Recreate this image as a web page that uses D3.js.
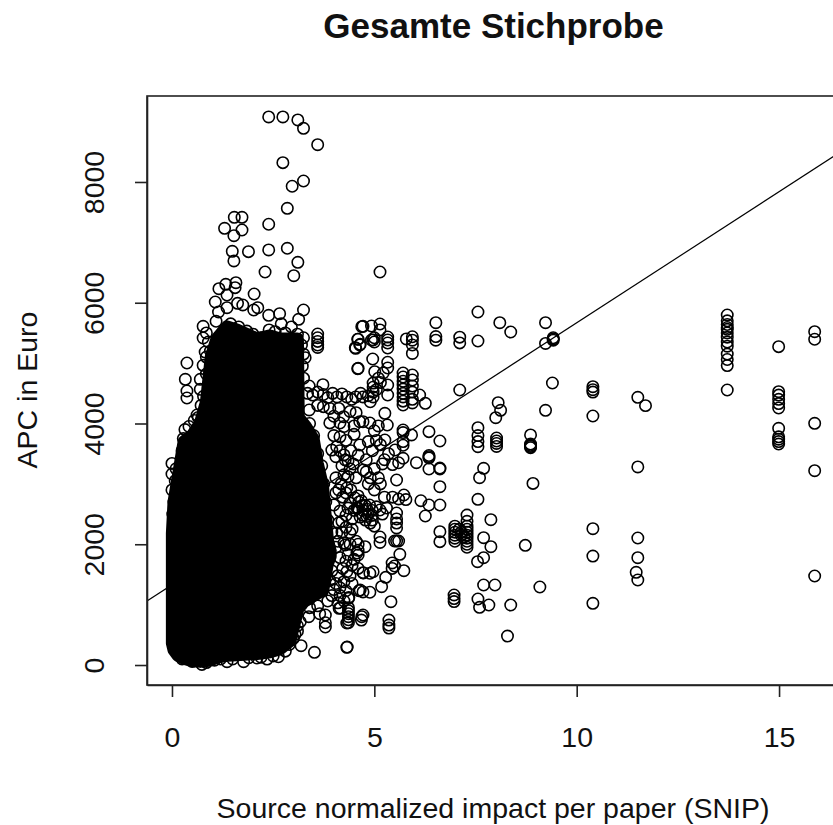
<!DOCTYPE html>
<html><head><meta charset="utf-8">
<script src="https://cdn.jsdelivr.net/npm/d3@7/dist/d3.min.js"></script>
<style>html,body{margin:0;padding:0;background:#fff;overflow:hidden}svg{display:block}text{font-family:"Liberation Sans",Arial,sans-serif;fill:#111}</style>
</head><body><svg id="c" width="833" height="825"></svg>
<script>
const chartTitle = "Gesamte Stichprobe";
const xLabel = "Source normalized impact per paper (SNIP)";
const yLabel = "APC in Euro";
const xTicks = [0, 5, 10, 15];
const yTicks = [0, 2000, 4000, 6000, 8000];
const regressionIntercept = 1328;
const regressionSlope = 434;

// Where the circles merge into solid black, single values cannot be read: envelope of the mass
const massX  = [0.01,0.05,0.15,0.30,0.50,0.70,0.85,0.97,1.11,1.36,1.60,2.10,2.42,2.67,2.91,3.10,3.12,3.30,3.49,3.59,3.72,3.84,3.91];
const massHi = [2180,2700,3100,3700,3800,4000,4350,5100,5400,5600,5550,5400,5450,5400,5400,5400,4100,3950,3740,3340,2960,2080,1880];
const massLo = [360,250,160,110,70,60,70,90,130,160,170,190,220,270,400,900,980,1070,1150,1190,1230,1680,1800];

const pointsTop = [[2.39,9077],[2.74,9077],[3.11,9027],[3.25,8889],[3.60,8618],[2.74,8320],[3.25,8016],[2.97,7929],[2.85,7564],[2.39,7300],[1.54,7415],[1.73,7415],[1.30,7233],[1.73,7205],[1.53,7110],[1.49,6852],[1.89,6846],[2.39,6874],[2.85,6902],[1.53,6692],[3.11,6670],[2.30,6509],[3.01,6448],[1.58,6332],[1.33,6305],[1.16,6233],[1.56,6250],[1.36,6128],[2.03,6145],[1.07,6012],[1.62,5990],[1.75,5963],[1.36,5918],[2.12,5918],[2.02,5880],[3.25,5880],[1.15,5847],[2.39,5792],[2.66,5819],[3.13,5726],[0.77,5610],[0.77,5416],[1.09,5693],[0.82,5184],[0.37,5002],[0.77,4964],[0.33,4732],[0.37,4538],[0.70,4566],[1.07,5118],[1.03,4974],[0.70,4732],[0.95,4787],[0.37,4422],[0.62,4141],[0.00,3339],[0.00,3164],[0.00,2900],[3.25,5420],[3.29,5090],[0.85,5500],[0.90,5350]];
const pointsEdge = [[1.25,5500],[1.45,5650],[1.65,5600],[1.85,5530],[2.00,5480],[2.20,5420],[2.40,5550],[2.55,5520],[2.80,5500],[3.00,5400],[3.10,5480],[2.95,5600],[2.70,5650],[3.20,5300],[3.25,5150],[3.22,4950],[3.25,4750],[0.95,5200],[0.98,5000],[0.85,4820],[0.92,4600],[0.78,4450],[0.72,4300],[0.65,4100],[0.85,5100],[0.95,4450],[0.55,4050],[0.42,3950],[0.32,3900],[0.28,3750],[0.25,3550],[0.30,3450],[0.38,3300],[0.10,3250],[0.08,3050],[0.12,2900],[0.05,2700],[0.18,2800],[0.02,2500],[0.08,2400],[0.25,100],[0.50,60],[0.85,40],[1.05,80],[1.20,100],[1.50,100],[1.90,120],[2.20,130],[2.50,150],[2.80,230],[2.90,340],[3.00,440],[3.10,650],[3.20,1000],[3.40,1100],[3.55,1250],[3.70,1400],[3.80,1600],[3.90,1900],[3.95,2200],[3.85,2400],[3.80,2700],[3.75,3000],[3.70,3300],[3.60,3500],[3.50,3800],[3.40,4000]];
const pointsUpperMid = [[3.60,5482],[3.60,5420],[3.60,5360],[3.60,5300],[3.60,5260],[4.69,5603],[4.59,5395],[4.53,5256],[4.65,5312],[4.59,4908],[3.39,4621],[3.73,4643],[5.14,6509],[4.72,5610],[4.93,5615],[5.14,5648],[5.14,5549],[4.60,5395],[4.54,5245],[4.64,5300],[4.93,5383],[4.97,5383],[5.00,5350],[5.00,5420],[5.33,5433],[5.33,5383],[5.33,5333],[5.33,5250],[5.79,5400],[5.94,5437],[5.94,5380],[5.94,5300],[5.94,5160],[6.52,5670],[6.52,5440],[6.52,5380],[7.11,5430],[7.11,5335],[7.56,5847],[7.56,5366],[8.10,5670],[8.37,5515],[9.23,5670],[9.23,5326],[9.42,5380],[9.42,5400],[9.42,5420],[9.40,4671],[9.23,4218],[4.60,4913],[4.96,5068],[5.33,5014],[5.33,4919],[5.01,4858],[4.97,4670],[4.97,4600],[4.97,4520],[4.97,4440],[5.22,4836],[5.10,4750],[5.15,4680],[5.05,4560],[5.33,4638],[5.33,4472],[5.71,4836],[5.71,4770],[5.71,4700],[5.71,4638],[5.71,4570],[5.71,4500],[5.71,4440],[5.71,4370],[5.71,4306],[5.94,4803],[5.94,4720],[5.94,4620],[5.94,4520],[5.94,4400],[5.94,4340],[6.12,4472],[6.26,4334],[7.11,4555],[8.06,4345],[8.12,4218],[8.00,4096]];
const pointsRow4500 = [[3.35,4500],[3.48,4470],[3.60,4520],[3.74,4480],[3.85,4430],[3.97,4500],[4.08,4440],[4.20,4490],[4.32,4440],[4.44,4400],[4.54,4440],[4.66,4500],[4.72,4440],[4.85,4460],[4.90,4360],[3.39,4224],[3.74,4279],[3.60,4300],[3.90,4250],[4.15,4008],[4.64,4030],[4.24,4113],[4.40,4200],[4.55,4180],[3.90,4010],[4.00,4120],[4.12,4250],[4.25,3950],[4.50,3960],[4.72,4030],[4.89,4008],[5.26,4169],[5.32,3975],[5.10,3960],[5.00,3880]];
const pointsFringe = [[4.64,3644],[4.07,3616],[4.28,3395],[4.73,3230],[4.32,2932],[4.52,2766],[4.57,2600],[4.12,2352],[4.07,2186],[4.40,2191],[4.57,1855],[4.28,1988],[4.73,1524],[4.32,1545],[4.65,1242],[4.36,1105],[4.16,944],[3.79,828],[3.79,700],[3.79,630],[4.69,800],[3.17,717],[3.38,800],[3.04,508],[3.19,320],[3.52,210],[4.32,293],[2.63,137],[2.35,99],[2.10,116],[1.77,55],[1.36,55],[0.74,10],[4.00,3800],[3.95,3560],[4.15,3780],[4.30,3720],[4.50,3820],[4.42,3550],[4.60,3480],[4.20,3300],[4.40,3250],[4.05,3100],[4.18,3000],[4.35,3120],[4.05,2850],[4.22,2780],[4.40,2680],[4.00,2650],[4.15,2550],[4.30,2480],[4.45,2420],[4.10,2050],[4.25,2020],[4.40,2000],[4.15,1780],[4.30,1720],[4.45,1650],[4.60,1600],[3.95,1560],[4.10,1480],[4.25,1380],[4.45,1350],[3.90,1400],[4.00,1250],[4.15,1150],[3.85,1060],[3.60,980],[3.40,950],[3.65,850],[4.36,950],[4.36,900],[4.36,850],[4.36,800],[4.36,750],[4.36,700],[3.00,800],[3.10,560],[2.85,450],[3.00,640],[4.05,3450],[4.15,3550],[4.25,3480],[4.35,3380],[4.48,3330],[4.55,3100],[4.25,3150],[4.12,2900],[4.30,2850],[4.42,2900],[4.50,2560],[4.35,2600],[4.20,2380],[4.30,2280],[4.45,2250],[4.55,2050],[4.20,2200],[4.05,1950],[4.35,1830],[4.50,1750],[4.22,1600],[4.40,1480],[4.05,1350],[4.30,1230],[4.15,1280],[3.95,1150],[4.10,1030],[4.25,1060]];
const pointsClusterLeft = [[4.60,2800],[4.68,2720],[4.78,2640],[4.60,2600],[4.72,2560],[4.85,2500],[4.95,2480],[4.65,2450],[4.78,2400],[4.90,2350],[5.00,2300],[5.14,2567],[5.05,2620],[5.20,2500],[5.30,2600],[5.25,2780],[5.14,2120],[5.14,2030],[4.77,1960],[4.60,2000],[4.60,1900],[4.60,1822],[4.89,1520],[4.72,1530],[4.97,1545],[4.62,1230],[4.72,1210],[4.89,1205],[4.37,1120],[4.13,939],[4.32,696],[4.68,745],[4.72,828],[4.80,3200],[4.90,3100],[5.00,3250],[5.10,3100],[5.20,3330],[4.85,3000],[5.00,2900],[5.15,3000],[5.05,3720],[5.26,3727],[5.51,3561],[5.35,3500],[5.25,3400],[5.45,3320],[5.60,3350],[5.15,3650],[4.85,3700],[4.95,3550],[4.80,3400],[4.62,2700],[4.70,2640],[4.82,2580],[4.88,2650],[4.95,2560],[4.72,2480],[4.82,2460],[4.95,2400]];
const pointsLowerMid = [[7.56,3931],[7.56,3800],[7.56,3700],[7.56,3616],[8.02,3760],[8.02,3710],[8.02,3670],[8.02,3620],[8.86,3810],[8.86,3660],[8.86,3640],[8.86,3620],[8.86,3600],[6.35,3865],[6.62,3710],[5.92,3810],[5.71,3892],[5.71,3850],[5.71,3700],[5.71,3640],[6.35,3470],[6.35,3450],[6.35,3430],[6.04,3351],[6.62,3263],[5.71,3424],[6.35,3246],[6.62,3246],[7.70,3258],[7.60,3102],[8.92,3008],[6.62,2953],[7.56,2744],[6.62,2650],[6.35,2650],[6.15,2721],[6.26,2468],[7.29,2484],[7.88,2407],[6.62,2208],[6.62,2043],[6.99,2300],[6.99,2250],[6.99,2200],[6.99,2150],[6.99,2100],[6.99,2050],[7.29,2380],[7.29,2300],[7.29,2250],[7.29,2200],[7.29,2150],[7.29,2100],[7.29,2050],[7.29,2000],[7.29,1950],[7.15,2200],[7.15,2150],[7.10,2250],[7.22,2120],[7.70,2109],[7.88,1960],[8.73,1982],[7.70,1777],[7.55,1711],[7.70,1325],[7.98,1325],[9.09,1292],[6.97,1160],[6.97,1100],[6.97,1050],[7.56,1093],[7.60,955],[7.83,994],[8.37,994],[8.29,480],[4.33,298],[5.36,745],[5.36,662],[5.36,612],[5.41,1049],[5.18,1297],[5.28,1452],[5.73,1562],[5.44,1690],[5.44,1600],[5.50,1640],[5.63,1833],[5.50,2054],[5.55,2054],[5.60,2054],[5.55,2518],[5.55,2420],[5.55,2350],[5.55,2270],[5.73,2816],[5.78,2740],[5.55,3064],[5.60,2750],[5.45,2780]];
const pointsRight = [[10.40,4610],[10.40,4560],[10.40,4520],[10.40,4124],[11.51,4434],[11.70,4296],[11.51,3280],[10.40,2258],[10.40,1805],[10.40,1022],[11.51,2104],[11.51,1777],[11.47,1535],[11.51,1408],[13.72,5797],[13.72,5700],[13.72,5640],[13.72,5590],[13.72,5560],[13.72,5500],[13.72,5430],[13.72,5350],[13.72,5280],[13.72,5150],[13.72,5060],[13.72,4960],[13.72,4555],[14.99,5273],[14.99,4527],[14.99,4470],[14.99,4400],[14.99,4330],[14.99,4257],[14.99,3920],[14.99,3780],[14.99,3740],[14.99,3700],[14.99,3660],[15.88,5520],[15.88,5395],[15.88,4003],[15.88,3218],[15.88,1474]];

const svg = d3.select("#c");
const x = d3.scaleLinear().domain([-0.617, 17]).range([147, 860]);
const y = d3.scaleLinear().domain([-331, 9424]).range([685, 96]);

svg.append("clipPath").attr("id","plot").append("rect").attr("x",147).attr("y",96).attr("width",713).attr("height",589);
const g = svg.append("g").attr("clip-path","url(#plot)");

const line = d3.line().x(d=>x(d)).y(d=>y(regressionIntercept+regressionSlope*d));
g.append("path").attr("d",line(x.domain())).attr("fill","none").attr("stroke","#000").attr("stroke-width",1.2);

const mass = d3.area().x(d=>x(d[0])).y0(d=>y(d[2])).y1(d=>y(d[1]));
g.append("path").datum(massX.map((v,i)=>[v,massHi[i],massLo[i]]))
 .attr("d",mass).attr("fill","#000").attr("stroke","#000").attr("stroke-width",13).attr("stroke-linejoin","round");

const allPoints = [...pointsTop,...pointsEdge,...pointsUpperMid,...pointsRow4500,...pointsFringe,...pointsClusterLeft,...pointsLowerMid,...pointsRight];
g.selectAll("circle").data(allPoints).join("circle")
 .attr("cx",d=>x(d[0])).attr("cy",d=>y(d[1])).attr("r",5.7)
 .attr("fill","none").attr("stroke","#000").attr("stroke-width",1.6);

svg.append("rect").attr("x",147).attr("y",96).attr("width",713).attr("height",589).attr("fill","none").attr("stroke","#222").attr("stroke-width",1.6);

const fs = 28.5;
const ax = svg.append("g").attr("transform","translate(0,685)").call(d3.axisBottom(x).tickValues(xTicks).tickFormat(d3.format("d")).tickSize(12).tickSizeOuter(0).tickPadding(30));
ax.selectAll("text").attr("font-size",fs).attr("fill","#111");
ax.selectAll("line,path").attr("stroke","#222").attr("stroke-width",1.6);
const ay = svg.append("g").attr("transform","translate(147,0)").call(d3.axisLeft(y).tickValues(yTicks).tickFormat(d3.format("d")).tickSize(12).tickSizeOuter(0));
ay.selectAll("line,path").attr("stroke","#222").attr("stroke-width",1.6);
ay.selectAll("text").attr("font-size",fs).attr("fill","#111").attr("text-anchor","middle").attr("dy",0).attr("x",0)
  .attr("transform","translate(-51,0) rotate(-90)").attr("dominant-baseline","middle");

svg.append("text").attr("x",493.5).attr("y",38).attr("text-anchor","middle").attr("font-size",35).attr("font-weight","bold").text(chartTitle);
svg.append("text").attr("x",493).attr("y",818).attr("text-anchor","middle").attr("font-size",fs).text(xLabel);
svg.append("text").attr("transform","translate(37,390) rotate(-90)").attr("text-anchor","middle").attr("font-size",fs).text(yLabel);
</script></body></html>
